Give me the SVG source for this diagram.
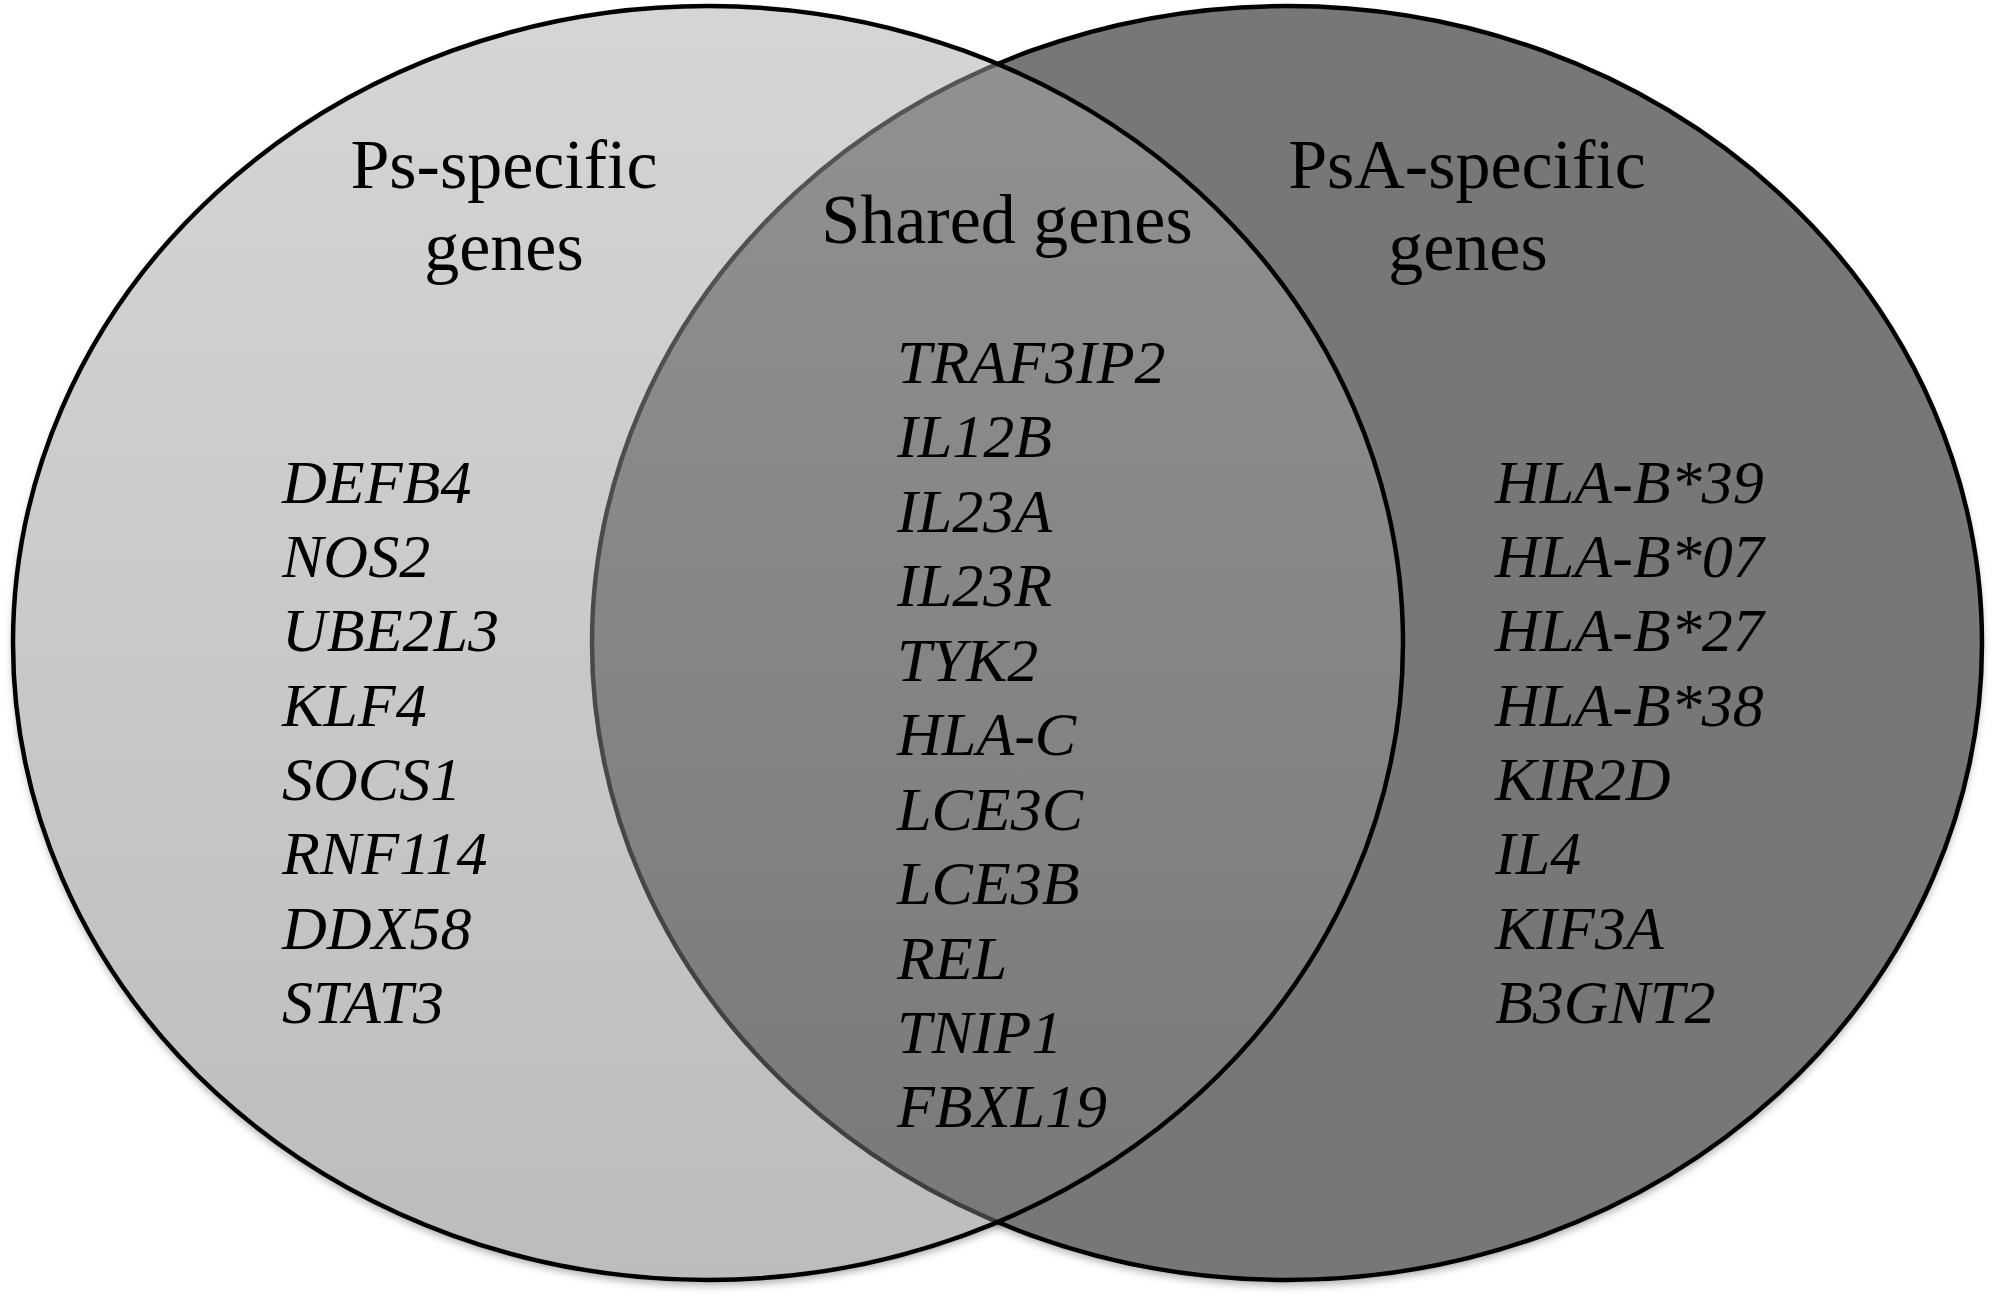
<svg xmlns="http://www.w3.org/2000/svg" width="1995" height="1300" viewBox="0 0 1995 1300">
  <style>
    .head { font-family: "Liberation Serif", "Times New Roman", serif; font-size: 70px; fill: #000; text-anchor: middle; }
    .gene { font-family: "Liberation Serif", "Times New Roman", serif; font-size: 62px; font-style: italic; fill: #000; }
    .ring { stroke: #000; stroke-width: 4.5; }
  </style>
  <defs>
    <linearGradient id="gradLeft" x1="0" y1="0" x2="0" y2="1">
      <stop offset="0" stop-color="#acacac"/>
      <stop offset="1" stop-color="#7a7a7a"/>
    </linearGradient>
    <filter id="blur" x="-10%" y="-10%" width="120%" height="120%">
      <feGaussianBlur stdDeviation="4"/>
    </filter>
    <mask id="outside" maskUnits="userSpaceOnUse" x="0" y="0" width="1995" height="1300">
      <rect x="0" y="0" width="1995" height="1300" fill="#fff"/>
      <ellipse cx="708" cy="643" rx="695" ry="637" fill="#000"/>
      <ellipse cx="1287" cy="643" rx="695" ry="637" fill="#000"/>
    </mask>
  </defs>

  <rect x="0" y="0" width="1995" height="1300" fill="#fff"/>

  <g id="shadow" mask="url(#outside)">
    <g filter="url(#blur)" fill="#000" fill-opacity="0.35">
      <ellipse cx="708" cy="648" rx="695" ry="637"/>
      <ellipse cx="1287" cy="648" rx="695" ry="637"/>
    </g>
  </g>

  <g id="psa-circle">
    <ellipse class="ring" cx="1287" cy="643" rx="695" ry="637" fill="#777777"/>
  </g>

  <g id="ps-circle">
    <ellipse class="ring" cx="708" cy="643" rx="695" ry="637" fill="url(#gradLeft)" fill-opacity="0.5"/>
  </g>

  <g id="ps-specific">
    <text class="head" x="504" y="188">Ps-specific</text>
    <text class="head" x="504" y="270">genes</text>
    <text class="gene" x="282" y="503">DEFB4</text>
    <text class="gene" x="282" y="577">NOS2</text>
    <text class="gene" x="282" y="651">UBE2L3</text>
    <text class="gene" x="282" y="726">KLF4</text>
    <text class="gene" x="282" y="800">SOCS1</text>
    <text class="gene" x="282" y="874">RNF114</text>
    <text class="gene" x="282" y="949">DDX58</text>
    <text class="gene" x="282" y="1023">STAT3</text>
  </g>

  <g id="shared">
    <text class="head" x="1007" y="243">Shared genes</text>
    <text class="gene" x="897" y="383">TRAF3IP2</text>
    <text class="gene" x="897" y="457">IL12B</text>
    <text class="gene" x="897" y="532">IL23A</text>
    <text class="gene" x="897" y="606">IL23R</text>
    <text class="gene" x="897" y="681">TYK2</text>
    <text class="gene" x="897" y="755">HLA-C</text>
    <text class="gene" x="897" y="830">LCE3C</text>
    <text class="gene" x="897" y="904">LCE3B</text>
    <text class="gene" x="897" y="979">REL</text>
    <text class="gene" x="897" y="1053">TNIP1</text>
    <text class="gene" x="897" y="1127">FBXL19</text>
  </g>

  <g id="psa-specific">
    <text class="head" x="1467" y="188">PsA-specific</text>
    <text class="head" x="1468" y="270">genes</text>
    <text class="gene" x="1495" y="503">HLA-B*39</text>
    <text class="gene" x="1495" y="577">HLA-B*07</text>
    <text class="gene" x="1495" y="651">HLA-B*27</text>
    <text class="gene" x="1495" y="726">HLA-B*38</text>
    <text class="gene" x="1495" y="800">KIR2D</text>
    <text class="gene" x="1495" y="874">IL4</text>
    <text class="gene" x="1495" y="949">KIF3A</text>
    <text class="gene" x="1495" y="1023">B3GNT2</text>
  </g>
</svg>
